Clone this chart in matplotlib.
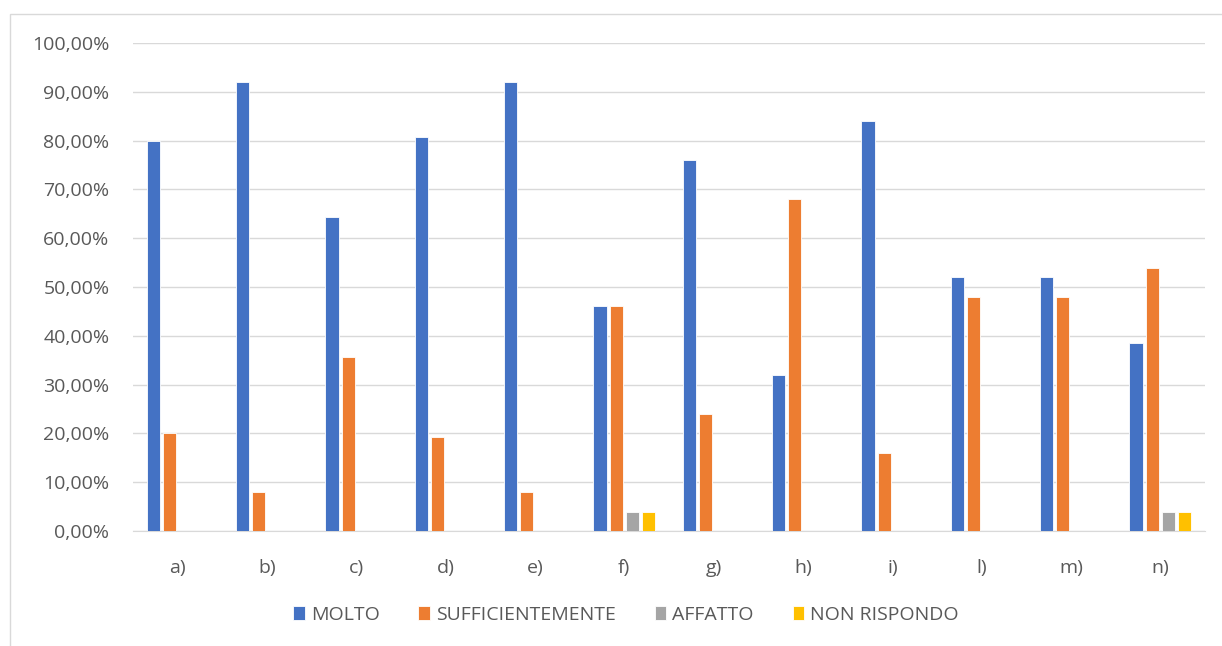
import numpy as np
import matplotlib.pyplot as plt
from matplotlib.patches import Rectangle
from matplotlib.ticker import FuncFormatter

categories = ["a)", "b)", "c)", "d)", "e)", "f)", "g)", "h)", "i)", "l)", "m)", "n)"]
series_names = ["MOLTO", "SUFFICIENTEMENTE", "AFFATTO", "NON RISPONDO"]
molto = [80.00, 92.00, 64.29, 80.77, 92.00, 46.15, 76.00, 32.00, 84.00, 52.00, 52.00, 38.46]
sufficientemente = [20.00, 8.00, 35.71, 19.23, 8.00, 46.15, 24.00, 68.00, 16.00, 48.00, 48.00, 53.85]
affatto = [0, 0, 0, 0, 0, 3.85, 0, 0, 0, 0, 0, 3.85]
non_rispondo = [0, 0, 0, 0, 0, 3.85, 0, 0, 0, 0, 0, 3.85]
colors = ["#4472C4", "#ED7D31", "#A5A5A5", "#FFC000"]

plt.rcParams['font.family'] = ['Open Sans', 'DejaVu Sans']
txt = "#595959"

fig = plt.figure(figsize=(12.22, 6.46), dpi=100)
fig.patches.append(Rectangle((10 / 1222, -0.1), 1.2, 1 - 14 / 646 + 0.1,
                             transform=fig.transFigure, fill=False,
                             edgecolor="#d9d9d9", lw=1))
ax = fig.add_axes([133 / 1222, 1 - 531 / 646, (1205 - 133) / 1222, (531 - 43) / 646])

x = np.arange(len(categories))
slot = 0.182
width = 0.148
data = [molto, sufficientemente, affatto, non_rispondo]
for i, (vals, name, c) in enumerate(zip(data, series_names, colors)):
    ax.bar(x + (i - 1.5) * slot, vals, width, color=c, label=name,
           edgecolor="white", linewidth=0.6, zorder=3)

ax.set_xlim(-0.5, len(categories) - 0.5)
ax.set_ylim(0, 100)
ax.set_yticks(np.arange(0, 101, 10))
ax.yaxis.set_major_formatter(FuncFormatter(lambda v, p: f"{v:.2f}%".replace(".", ",")))
ax.set_xticks(x)
ax.set_xticklabels(categories)
ax.tick_params(length=0, colors=txt, labelsize=14)
ax.tick_params(axis="y", pad=17)
ax.tick_params(axis="x", pad=20)
ax.grid(axis="y", color="#d9d9d9", lw=1, zorder=0)
for s in ["top", "right", "left"]:
    ax.spines[s].set_visible(False)
ax.spines["bottom"].set_color("#d9d9d9")

leg = fig.legend(loc="center", bbox_to_anchor=(626 / 1222, 1 - 615 / 646), ncol=4,
                 frameon=False, fontsize=14, handlelength=0.6, handleheight=0.75,
                 handletextpad=0.3, columnspacing=2.0)
for t in leg.get_texts():
    t.set_color(txt)

fig.savefig("out.png", dpi=100)
